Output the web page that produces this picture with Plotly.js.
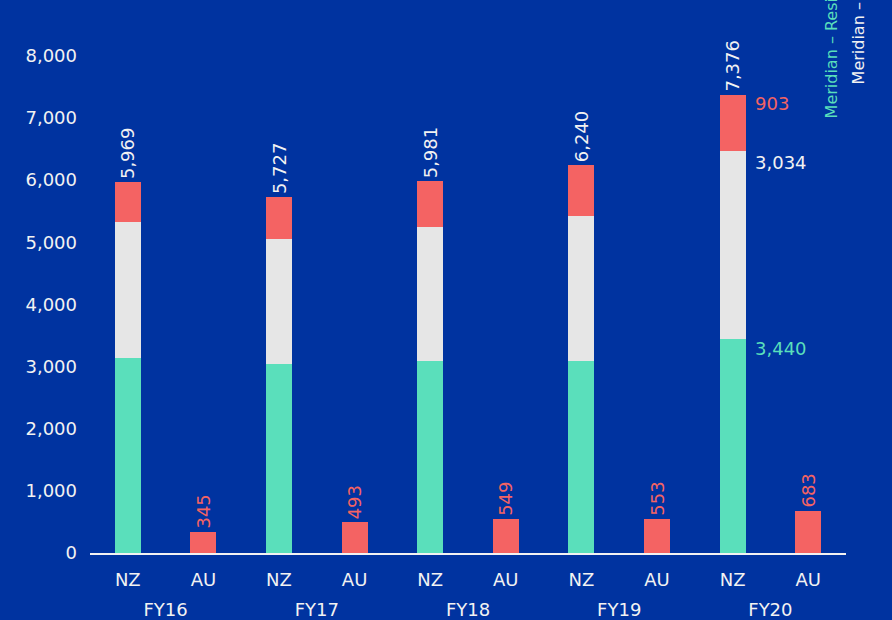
<!DOCTYPE html>
<html>
<head>
<meta charset="utf-8">
<script src="https://cdn.plot.ly/plotly-3.0.1.min.js"></script>
<style>
  html, body { margin: 0; padding: 0; background: #0033A0; }
  #chart { width: 892px; height: 620px; }
</style>
</head>
<body>
<div id="chart"></div>
<script>
// ---- data ----
var years = ["FY16", "FY17", "FY18", "FY19", "FY20"];
var regions = ["NZ", "AU"];
var seriesNames = ["Meridian – Residential", "Meridian – Business", "Powershop"];
var nzGreen = [3135, 3047, 3089, 3089, 3440];
var nzGray  = [2195, 2010, 2157, 2334, 3034];
var nzRed   = [639, 670, 735, 817, 903];
var nzTotal = [5969, 5727, 5981, 6240, 7376];
var auRed   = [345, 493, 549, 553, 683];

// ---- build ----
var BG = "#0033A0", GREEN = "#5ADFBB", GRAY = "#E6E6E6", RED = "#F46363", WHITE = "#F2F2F2";
var FONT = "DejaVu Sans, sans-serif";

var cats = [], catText = [], green = [], gray = [], red = [], redText = [], redTextColor = [];
years.forEach(function (y, i) {
  regions.forEach(function (r) {
    cats.push(y + " " + r); catText.push(r);
    if (r === "NZ") {
      green.push(nzGreen[i]); gray.push(nzGray[i]); red.push(nzRed[i]);
      redText.push(nzTotal[i].toLocaleString("en-US")); redTextColor.push(WHITE);
    } else {
      green.push(null); gray.push(null); red.push(auRed[i]);
      redText.push(auRed[i].toLocaleString("en-US")); redTextColor.push(RED);
    }
  });
});

var traces = [
  { type: "bar", name: seriesNames[0], x: cats, y: green, marker: { color: GREEN }, hoverinfo: "none" },
  { type: "bar", name: seriesNames[1], x: cats, y: gray, marker: { color: GRAY }, hoverinfo: "none" },
  { type: "bar", name: seriesNames[2], x: cats, y: red, marker: { color: RED }, hoverinfo: "none",
    text: redText, textposition: "outside", textangle: -90, constraintext: "none", cliponaxis: false,
    textfont: { family: FONT, size: 18, color: redTextColor } },
  // invisible trace that carries the year categories for the second label row
  { type: "bar", x: years, y: years.map(function () { return null; }), xaxis: "x2", yaxis: "y",
    hoverinfo: "none", showlegend: false }
];

// last NZ bar breakdown labels
var li = years.length - 1;
var lastCat = years[li] + " " + regions[0];
var annotations = [
  { y: nzGreen[li] + nzGray[li] + nzRed[li], text: nzRed[li].toLocaleString("en-US"), color: RED, ys: -9 },
  { y: nzGreen[li] + nzGray[li], text: nzGray[li].toLocaleString("en-US"), color: WHITE, ys: -12 },
  { y: nzGreen[li], text: nzGreen[li].toLocaleString("en-US"), color: GREEN, ys: -9 }
].map(function (a) {
  return { xref: "x", yref: "y", x: lastCat, y: a.y, text: a.text, showarrow: false,
    xanchor: "left", yanchor: "middle", xshift: 20, yshift: a.ys,
    font: { family: FONT, size: 18, color: a.color } };
});

// rotated legend entries at top right (partly cut off by top edge, as in the original)
annotations.push({ xref: "paper", yref: "paper", x: 0.981, y: 0.828, text: seriesNames[0],
  textangle: -90, showarrow: false, xanchor: "center", yanchor: "bottom",
  font: { family: FONT, size: 16, color: GREEN } });
annotations.push({ xref: "paper", yref: "paper", x: 1.016, y: 0.894, text: seriesNames[1],
  textangle: -90, showarrow: false, xanchor: "center", yanchor: "bottom",
  font: { family: FONT, size: 16, color: WHITE } });

var layout = {
  width: 892, height: 620,
  paper_bgcolor: BG, plot_bgcolor: BG,
  margin: { l: 90, r: 46, t: 31, b: 67 },
  barmode: "stack", bargap: 0.656,
  showlegend: false,
  font: { family: FONT, size: 18, color: WHITE },
  xaxis: {
    type: "category", categoryorder: "array", categoryarray: cats,
    tickvals: cats, ticktext: catText,
    showgrid: false, zeroline: false, automargin: false,
    showline: true, linecolor: WHITE, linewidth: 2, ticks: "", ticklabelstandoff: 9,
    tickfont: { family: FONT, size: 18, color: WHITE }
  },
  xaxis2: {
    type: "category", categoryorder: "array", categoryarray: years,
    overlaying: "x", side: "bottom", anchor: "y",
    showgrid: false, zeroline: false, showline: false, ticks: "", automargin: false,
    ticklabelstandoff: 44,
    tickfont: { family: FONT, size: 18, color: WHITE }
  },
  yaxis: {
    range: [0, 8400], showgrid: false, zeroline: false, showline: false, ticks: "",
    tickvals: [0, 1000, 2000, 3000, 4000, 5000, 6000, 7000, 8000],
    tickformat: ",d", ticklabelstandoff: 12, automargin: false,
    tickfont: { family: FONT, size: 18, color: WHITE }
  },
  annotations: annotations
};

Plotly.newPlot("chart", traces, layout, { staticPlot: true, displayModeBar: false });
</script>
</body>
</html>
